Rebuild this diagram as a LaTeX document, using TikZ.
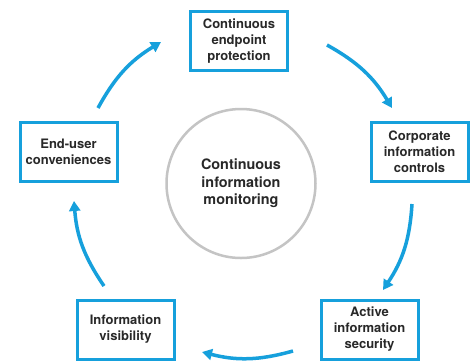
\documentclass[tikz,border=0pt]{standalone}
\usepackage{fontspec}
\setmainfont{TeX Gyre Heros}
\usetikzlibrary{arrows.meta}
\definecolor{cycblue}{RGB}{22,160,220}
\definecolor{ringgray}{RGB}{196,196,196}
\definecolor{txtdark}{RGB}{40,40,40}
\tikzset{
  stagebox/.style={draw=cycblue, line width=3pt, fill=white, minimum width=97pt, minimum height=59pt,
    inner sep=0pt, align=center, text=txtdark, font=\bfseries\fontsize{13}{16}\selectfont},
  hub/.style={draw=ringgray, line width=2.5pt, circle, minimum size=149pt, inner sep=0pt,
    align=center, text=txtdark, font=\bfseries\fontsize{14.4}{17.5}\selectfont},
  cycarrow/.style={draw=cycblue, line width=3.5pt, -{Triangle[length=10pt,width=11pt]}, bend left=15}
}
\begin{document}
\begin{tikzpicture}[x=1pt,y=-1pt]
\useasboundingbox (0,0) rectangle (474,360);
\fill[white] (0,0) rectangle (474,360);
\node[hub] (center) at (241,183.5) {Continuous\\information\\monitoring};
\node[stagebox] (endpoint) at (239,41) {Continuous\\endpoint\\protection};
\node[stagebox] (corporate) at (419.5,152) {Corporate\\information\\controls};
\node[stagebox] (active) at (369.5,329.5) {Active\\information\\security};
\node[stagebox] (visibility) at (125.5,329.5) {Information\\visibility};
\node[stagebox] (enduser) at (68.5,152) {End-user\\conveniences};
\coordinate (a1s) at (98,108);  \coordinate (a1e) at (161,42);
\coordinate (a2s) at (327,45);  \coordinate (a2e) at (392,108);
\coordinate (a3s) at (412,204); \coordinate (a3e) at (383,290);
\coordinate (a4s) at (293,351); \coordinate (a4e) at (202,352);
\coordinate (a5s) at (104,286); \coordinate (a5e) at (74,201);
\draw[cycarrow] (a1s) to (a1e);
\draw[cycarrow] (a2s) to (a2e);
\draw[cycarrow] (a3s) to (a3e);
\draw[cycarrow] (a4s) to (a4e);
\draw[cycarrow] (a5s) to (a5e);
\end{tikzpicture}
\end{document}
